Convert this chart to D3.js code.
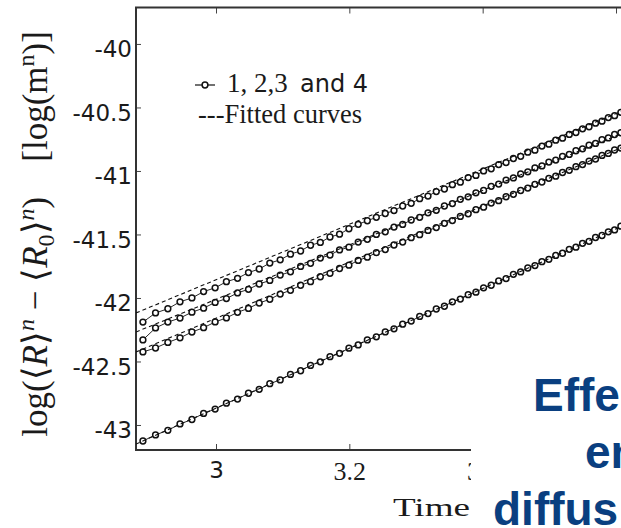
<!DOCTYPE html>
<html>
<head>
<meta charset="utf-8">
<script src="https://cdn.jsdelivr.net/npm/d3@7"></script>
<style>
    html, body { margin: 0; padding: 0; background: #fff; overflow: hidden; }
    svg { display: block; }
</style>
</head>
<body>
<div id="chart"></div>
<script>
// data (x is log time, y is log(<R>^n - <R0>^n))
const times = [2.8904, 2.9093, 2.9278, 2.9460, 2.9639, 2.9814, 2.9987, 3.0156, 3.0323, 3.0487,
    3.0648, 3.0807, 3.0963, 3.1117, 3.1269, 3.1418, 3.1565, 3.1710, 3.1853, 3.1994,
    3.2133, 3.2270, 3.2405, 3.2539, 3.2670, 3.2800, 3.2928, 3.3055, 3.3180, 3.3304,
    3.3426, 3.3546, 3.3665, 3.3783, 3.3899, 3.4014, 3.4128, 3.4240, 3.4351, 3.4461,
    3.4570, 3.4677, 3.4784, 3.4889, 3.4993, 3.5096, 3.5198, 3.5299, 3.5399, 3.5498,
    3.5596, 3.5693, 3.5790, 3.5885, 3.5979, 3.6073, 3.6166];

const series1 = [-42.190, -42.118, -42.085, -42.030, -42.000, -41.950, -41.920, -41.872, -41.845, -41.800,
    -41.772, -41.725, -41.700, -41.655, -41.630, -41.585, -41.563, -41.520, -41.498, -41.455,
    -41.420, -41.392, -41.365, -41.335, -41.312, -41.276, -41.255, -41.218, -41.198, -41.162,
    -41.142, -41.108, -41.088, -41.052, -41.035, -41.000, -40.983, -40.950, -40.934, -40.902,
    -40.885, -40.852, -40.836, -40.804, -40.789, -40.758, -40.742, -40.712, -40.697, -40.668,
    -40.652, -40.624, -40.608, -40.580, -40.565, -40.538, -40.522];

const series2 = [-42.330, -42.236, -42.190, -42.158, -42.112, -42.080, -42.035, -42.005, -41.960, -41.932,
    -41.890, -41.862, -41.820, -41.794, -41.752, -41.727, -41.686, -41.662, -41.622, -41.600,
    -41.560, -41.538, -41.500, -41.479, -41.442, -41.421, -41.386, -41.365, -41.330, -41.310,
    -41.276, -41.257, -41.223, -41.204, -41.172, -41.153, -41.121, -41.103, -41.072, -41.055,
    -41.024, -41.007, -40.976, -40.960, -40.930, -40.914, -40.885, -40.870, -40.841, -40.826,
    -40.797, -40.783, -40.754, -40.740, -40.713, -40.699, -40.671];

const series3 = [-42.425, -42.394, -42.350, -42.314, -42.268, -42.234, -42.189, -42.157, -42.113, -42.082,
    -42.040, -42.010, -41.969, -41.940, -41.900, -41.872, -41.833, -41.806, -41.768, -41.742,
    -41.704, -41.679, -41.643, -41.619, -41.583, -41.560, -41.525, -41.502, -41.468, -41.446,
    -41.412, -41.391, -41.358, -41.337, -41.305, -41.285, -41.253, -41.234, -41.203, -41.184,
    -41.154, -41.135, -41.105, -41.087, -41.058, -41.041, -41.012, -40.995, -40.966, -40.950,
    -40.922, -40.906, -40.878, -40.862, -40.835, -40.820, -40.793];

const series4 = [-43.126, -43.078, -43.042, -42.992, -42.957, -42.909, -42.875, -42.828, -42.796, -42.750,
    -42.719, -42.675, -42.645, -42.602, -42.573, -42.531, -42.503, -42.462, -42.436, -42.395,
    -42.370, -42.330, -42.306, -42.267, -42.243, -42.206, -42.182, -42.145, -42.123, -42.087,
    -42.065, -42.030, -42.009, -41.974, -41.954, -41.920, -41.900, -41.866, -41.847, -41.814,
    -41.795, -41.764, -41.745, -41.714, -41.696, -41.665, -41.648, -41.617, -41.600, -41.570,
    -41.554, -41.524, -41.508, -41.479, -41.464, -41.435, -41.420];

// fitted straight lines, start and end
const fitTimes = [2.88, 3.72];
const fit1 = [-42.118, -40.287];
const fit2 = [-42.268, -40.467];
const fit3 = [-42.425, -40.569];
const fit4 = [-43.150, -41.172];

const yTicks = [-40, -40.5, -41, -41.5, -42, -42.5, -43];
const xTicks = [3, 3.2, 3.4, 3.6];
const xTickLabels = ["3", "3.2", "3.4", ""];
const legendLabels = ["1, 2,3", "and 4", "---Fitted curves"];
const overlayLines = ["Effe", "en", "diffus"];

const width = 621;
const height = 528;
const plot = {left: 136, top: 7.5, bottom: 450, right: 696};
const ink = "#111";
const serif = "'Liberation Serif', 'Times New Roman', serif";
const sans = "'DejaVu Sans', sans-serif";

const svg = d3.select("#chart").append("svg")
    .attr("width", width)
    .attr("height", height);

const x = d3.scaleLinear()
    .domain([2.88, 3.72])
    .range([plot.left, plot.right]);

const y = d3.scaleLinear()
    .domain([-43.197, -39.713])
    .range([plot.bottom, plot.top]);

svg.append("defs").append("clipPath")
    .attr("id", "plotClip")
    .append("rect")
    .attr("x", plot.left)
    .attr("y", plot.top)
    .attr("width", plot.right - plot.left)
    .attr("height", plot.bottom - plot.top);

// AXES

const yAxis = svg.append("g")
    .attr("transform", `translate(${plot.left} 0)`)
    .call(d3.axisLeft(y).tickValues(yTicks).tickSize(-5).tickPadding(4).tickFormat(d => String(d)));

yAxis.select(".domain").remove();
yAxis.selectAll("line").attr("stroke", "#444");
yAxis.selectAll("text")
    .attr("dy", "0.55em")
    .style("font-family", sans)
    .style("font-size", "23px")
    .attr("fill", "#1a1a1a");

const xAxis = svg.append("g")
    .attr("transform", `translate(0 ${plot.bottom})`)
    .call(d3.axisBottom(x).tickValues(xTicks).tickSize(-6).tickFormat((d, i) => xTickLabels[i]));

xAxis.select(".domain").remove();
xAxis.selectAll("line").attr("stroke", "#444");
xAxis.selectAll("text")
    .attr("y", 12)
    .attr("dy", "0.71em")
    .style("font-family", d => d === 3 ? sans : serif)
    .style("font-size", d => d === 3 ? "23px" : "26px")
    .attr("fill", "#1a1a1a");

const topAxis = svg.append("g")
    .attr("transform", `translate(0 ${plot.top})`)
    .call(d3.axisTop(x).tickValues(xTicks).tickSize(-6).tickFormat(""));

topAxis.select(".domain").remove();
topAxis.selectAll("line").attr("stroke", "#444");

// frame (right side runs off the picture)
svg.append("path")
    .attr("d", `M${plot.right},${plot.top}H${plot.left}V${plot.bottom}H${plot.right}`)
    .attr("fill", "none")
    .attr("stroke", "#333")
    .attr("stroke-width", 2);

// SERIES

const allSeries = [series1, series2, series3, series4];
const allFits = [fit1, fit2, fit3, fit4];

const plotArea = svg.append("g")
    .attr("clip-path", "url(#plotClip)");

const dataLine = d3.line()
    .x((d, i) => x(times[i]))
    .y(d => y(d));

const fitLine = d3.line()
    .x((d, i) => x(fitTimes[i]))
    .y(d => y(d));

plotArea.selectAll(".data-line")
    .data(allSeries)
    .join("path")
    .attr("class", "data-line")
    .attr("d", dataLine)
    .attr("fill", "none")
    .attr("stroke", ink)
    .attr("stroke-width", 0.9);

const markerGroups = plotArea.selectAll(".markers")
    .data(allSeries)
    .join("g")
    .attr("class", "markers");

markerGroups.selectAll("circle")
    .data(d => d)
    .join("circle")
    .attr("cx", (d, i) => x(times[i]))
    .attr("cy", d => y(d))
    .attr("r", 2.9)
    .attr("fill", "#fff")
    .attr("stroke", ink)
    .attr("stroke-width", 1.5);

plotArea.selectAll(".fit-line")
    .data(allFits)
    .join("path")
    .attr("class", "fit-line")
    .attr("d", fitLine)
    .attr("fill", "none")
    .attr("stroke", ink)
    .attr("stroke-width", 1.1)
    .attr("stroke-dasharray", "4,3");

// LEGEND

const legend = svg.append("g");

legend.append("line")
    .attr("x1", 195).attr("x2", 215)
    .attr("y1", 85).attr("y2", 85)
    .attr("stroke", ink)
    .attr("stroke-width", 1.2);

legend.append("circle")
    .attr("cx", 205).attr("cy", 85)
    .attr("r", 2.9)
    .attr("fill", "#fff")
    .attr("stroke", ink)
    .attr("stroke-width", 1.5);

legend.append("text")
    .attr("x", 227).attr("y", 92)
    .style("font-family", serif)
    .style("font-size", "27px")
    .attr("fill", "#1a1a1a")
    .text(legendLabels[0]);

legend.append("text")
    .attr("x", 300).attr("y", 92)
    .style("font-family", sans)
    .style("font-size", "24px")
    .attr("fill", "#1a1a1a")
    .text(legendLabels[1]);

legend.append("text")
    .attr("x", 198).attr("y", 123)
    .style("font-family", serif)
    .style("font-size", "26.5px")
    .attr("fill", "#1a1a1a")
    .text(legendLabels[2]);

// AXIS TITLES

svg.append("text")
    .attr("x", 393).attr("y", 516)
    .attr("textLength", 77)
    .attr("lengthAdjust", "spacingAndGlyphs")
    .style("font-family", serif)
    .style("font-size", "25px")
    .attr("fill", "#1a1a1a")
    .text("Time");

// pieces of log(<R>^n - <R0>^n)  [log(m^n)]
const titleParts = [
    {t: "log(\u27E8", s: 0},
    {t: "R", s: 0, it: true},
    {t: "\u27E9", s: 0},
    {t: "n", s: 1, it: true},
    {t: " \u2212 \u27E8", s: 0},
    {t: "R", s: 0, it: true},
    {t: "0", s: -1},
    {t: "\u27E9", s: 0},
    {t: "n", s: 1, it: true},
    {t: ")", s: 0},
    {t: "\u2003[log(m", s: 0},
    {t: "n", s: 1},
    {t: ")]", s: 0}
];

const yTitle = svg.append("text")
    .attr("transform", "translate(47 234) rotate(-90)")
    .attr("text-anchor", "middle")
    .style("font-family", serif)
    .style("font-size", "35px")
    .attr("fill", "#1a1a1a");

let shift = 0;
titleParts.forEach(p => {
    const target = p.s === 1 ? -13 : (p.s === -1 ? 7 : 0);
    yTitle.append("tspan")
        .attr("dy", target - shift)
        .style("font-size", p.s === 0 ? null : "24px")
        .style("font-style", p.it ? "italic" : null)
        .text(p.t);
    shift = target;
});

// OVERLAY (slide title box covering the lower right)

svg.append("rect")
    .attr("x", 471).attr("y", 355)
    .attr("width", width - 471).attr("height", height - 355)
    .attr("fill", "#fff");

const overlayX = [533, 585, 493];
const overlayY = [411, 468, 525];

svg.selectAll(".overlay-text")
    .data(overlayLines)
    .join("text")
    .attr("class", "overlay-text")
    .attr("x", (d, i) => overlayX[i])
    .attr("y", (d, i) => overlayY[i])
    .style("font-family", "'Liberation Sans', Arial, sans-serif")
    .style("font-weight", "bold")
    .style("font-size", "46px")
    .attr("fill", "#0a3f80")
    .text(d => d);
</script>
</body>
</html>
